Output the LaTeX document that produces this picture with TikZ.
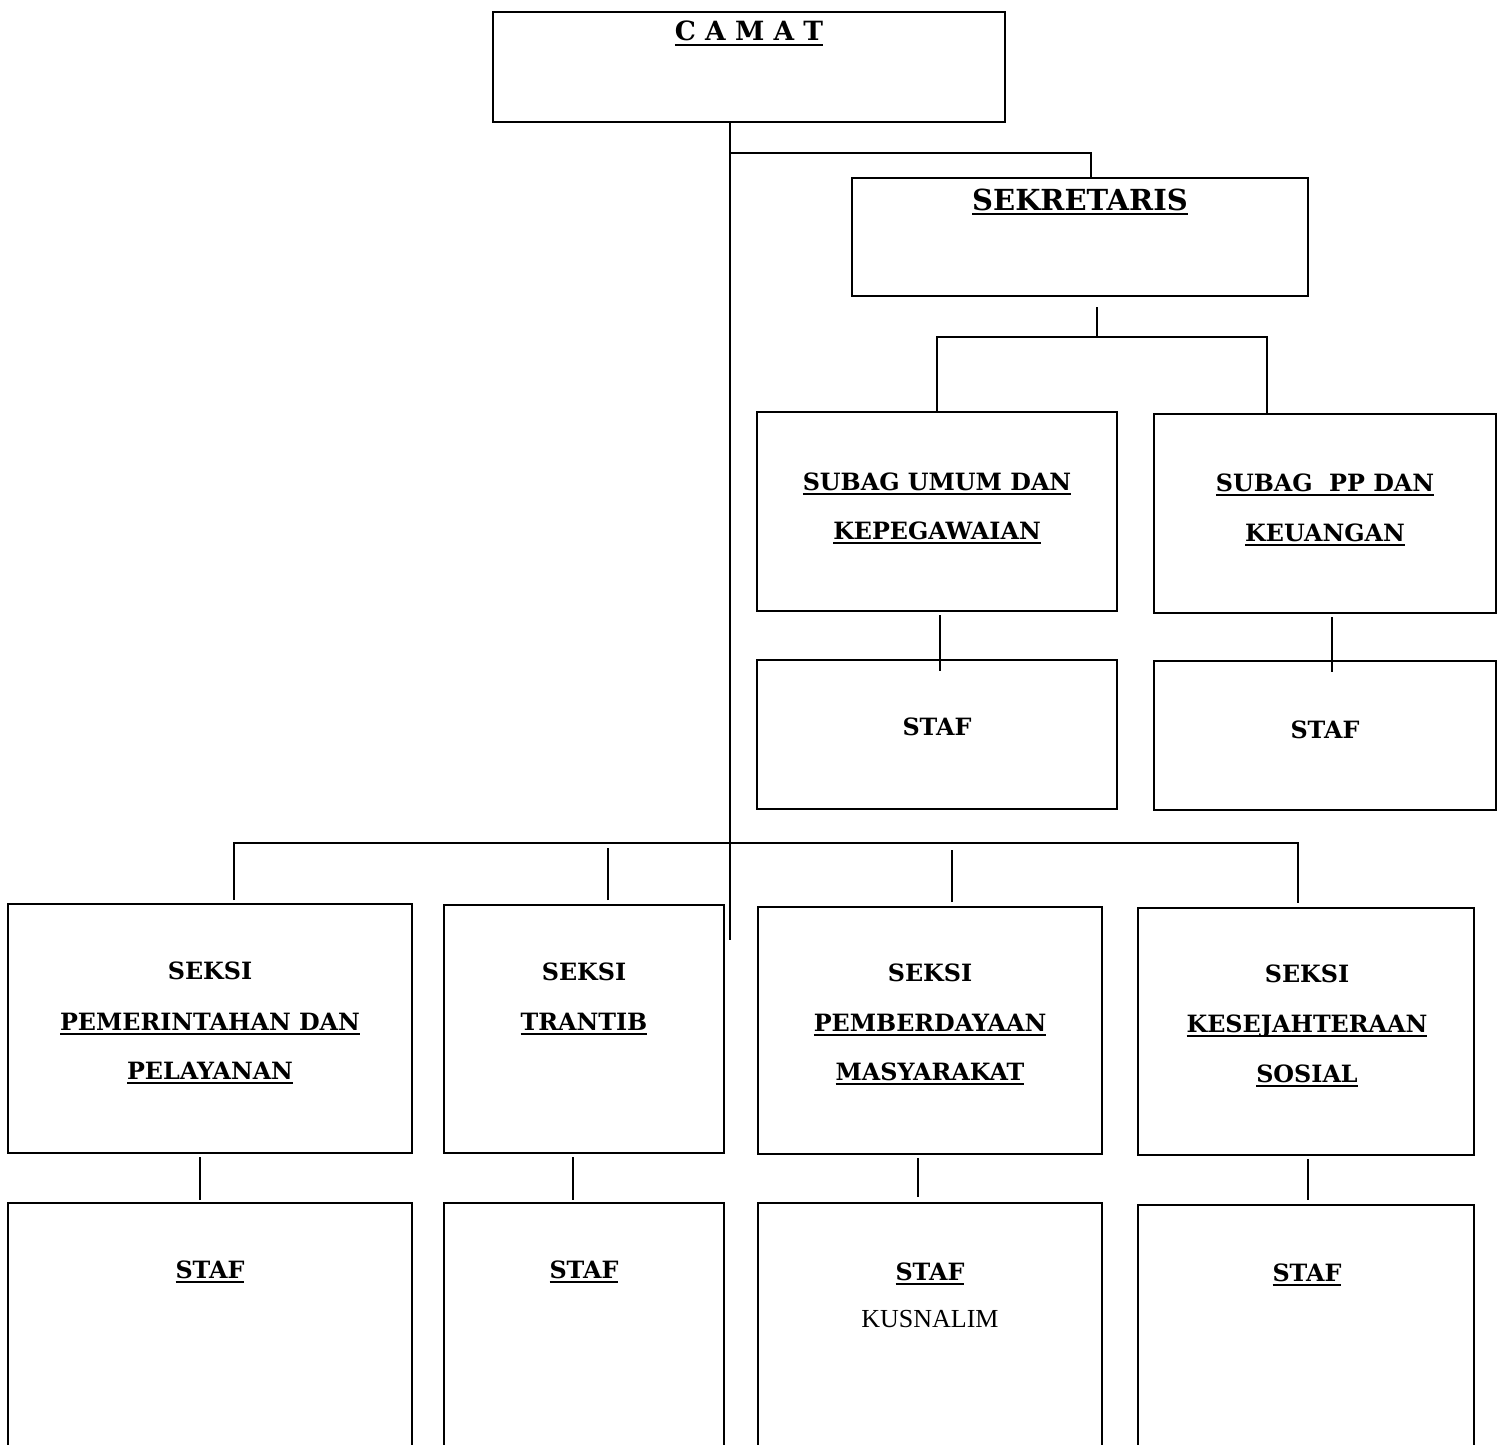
\documentclass[tikz,border=0pt]{standalone}
\usepackage{fontspec}
\setmainfont{DejaVu Serif}
\newfontfamily\tnr{Liberation Serif}
\newcommand\myul[1]{\setbox0\hbox{#1}\rlap{\rule[-5pt]{\wd0}{2pt}}\box0}
\begin{document}
\begin{tikzpicture}[x=1pt,y=-1pt,
 box/.style={draw, line width=1.5pt, inner sep=0pt, outer sep=0pt},
 conn/.style={line width=2.2pt},
 lbl/.style={anchor=base, inner sep=0pt, font=\fontsize{23.8}{28}\selectfont\bfseries},
 big/.style={anchor=base, inner sep=0pt, font=\fontsize{29}{34}\selectfont\bfseries},
 plain/.style={anchor=base, inner sep=0pt, font=\fontsize{26}{30}\selectfont\tnr},
]
\useasboundingbox (0,0) rectangle (1497,1445);
\clip (0,0) rectangle (1497,1445);
% boxes
\node[box, minimum width=512pt, minimum height=110pt] (camat) at (749,67) {};
\node[box, minimum width=456pt, minimum height=118pt] (sek) at (1080,237) {};
\node[box, minimum width=360pt, minimum height=199pt] (subum) at (937,511.5) {};
\node[box, minimum width=342pt, minimum height=199pt] (subpp) at (1325,513.5) {};
\node[box, minimum width=360pt, minimum height=149pt] (stafum) at (937,734.5) {};
\node[box, minimum width=342pt, minimum height=149pt] (stafpp) at (1325,735.5) {};
\node[box, minimum width=404pt, minimum height=249pt] (s1) at (210,1028.5) {};
\node[box, minimum width=280pt, minimum height=248pt] (s2) at (584,1029) {};
\node[box, minimum width=344pt, minimum height=247pt] (s3) at (930,1030.5) {};
\node[box, minimum width=336pt, minimum height=247pt] (s4) at (1306,1031.5) {};
\node[box, minimum width=404pt, minimum height=297pt] (staf1) at (210,1351.5) {};
\node[box, minimum width=280pt, minimum height=297pt] (staf2) at (584,1351.5) {};
\node[box, minimum width=344pt, minimum height=297pt] (staf3) at (930,1351.5) {};
\node[box, minimum width=336pt, minimum height=295pt] (staf4) at (1306,1352.5) {};
% labels
\node[anchor=base, inner sep=0pt, font=\fontsize{26.5}{30}\selectfont\bfseries] (tcamat) at (749,41) {\myul{C A M A T}};
\node[big] (tsek) at (1080,210) {\myul{SEKRETARIS}};
\node[lbl] (tsu1) at (937,490) {\myul{SUBAG UMUM DAN}};
\node[lbl] (tsu2) at (937,539) {\myul{KEPEGAWAIAN}};
\node[lbl] (tsp1) at (1325,491) {\myul{SUBAG\ \ PP DAN}};
\node[lbl] (tsp2) at (1325,541) {\myul{KEUANGAN}};
\node[lbl] (tsfu) at (937,735) {STAF};
\node[lbl] (tsfp) at (1325,738) {STAF};
\node[lbl] (ts1a) at (210,979) {SEKSI};
\node[lbl] (ts1b) at (210,1030) {\myul{PEMERINTAHAN DAN}};
\node[lbl] (ts1c) at (210,1079) {\myul{PELAYANAN}};
\node[lbl] (ts2a) at (584,980) {SEKSI};
\node[lbl] (ts2b) at (584,1030) {\myul{TRANTIB}};
\node[lbl] (ts3a) at (930,981) {SEKSI};
\node[lbl] (ts3b) at (930,1031) {\myul{PEMBERDAYAAN}};
\node[lbl] (ts3c) at (930,1080) {\myul{MASYARAKAT}};
\node[lbl] (ts4a) at (1307,982) {SEKSI};
\node[lbl] (ts4b) at (1307,1032) {\myul{KESEJAHTERAAN}};
\node[lbl] (ts4c) at (1307,1082) {\myul{SOSIAL}};
\node[lbl] (tf1) at (210,1278) {\myul{STAF}};
\node[lbl] (tf2) at (584,1278) {\myul{STAF}};
\node[lbl] (tf3) at (930,1280) {\myul{STAF}};
\node[lbl] (tf4) at (1307,1281) {\myul{STAF}};
\node[plain] (tkus) at (930,1327) {KUSNALIM};
% connectors
\coordinate (t1) at (730,153);
\coordinate (tend) at (730,940);
\coordinate (sb) at (1097,337);
\coordinate (bus) at (730,843);
\draw[conn] (camat.south -| t1) -- (tend);
\draw[conn] (t1) -| ([xshift=11pt]sek.north);
\draw[conn] ([yshift=-11pt]sek.south -| sb) -- (sb);
\draw[conn] (subum.north) |- (sb) -| ([xshift=-58pt]subpp.north);
\draw[conn] ([xshift=3pt,yshift=-4pt]subum.south) -- ([xshift=3pt,yshift=-11pt]stafum.north);
\draw[conn] ([xshift=7pt,yshift=-4pt]subpp.south) -- ([xshift=7pt,yshift=-11pt]stafpp.north);
\draw[conn] ([xshift=24pt,yshift=4pt]s1.north) |- (bus) -| ([xshift=-8pt,yshift=5pt]s4.north);
\draw[conn] ([xshift=24pt,yshift=5pt]s2.north) -- ++(0,-52);
\draw[conn] ([xshift=22pt,yshift=5pt]s3.north) -- ++(0,-52);
\draw[conn] ([xshift=-10pt,yshift=-4pt]s1.south) -- ([xshift=-10pt,yshift=3pt]staf1.north);
\draw[conn] ([xshift=-11pt,yshift=-4pt]s2.south) -- ([xshift=-11pt,yshift=3pt]staf2.north);
\draw[conn] ([xshift=-12pt,yshift=-4pt]s3.south) -- ([xshift=-12pt,yshift=6pt]staf3.north);
\draw[conn] ([xshift=2pt,yshift=-4pt]s4.south) -- ([xshift=2pt,yshift=5pt]staf4.north);
\end{tikzpicture}
\end{document}
